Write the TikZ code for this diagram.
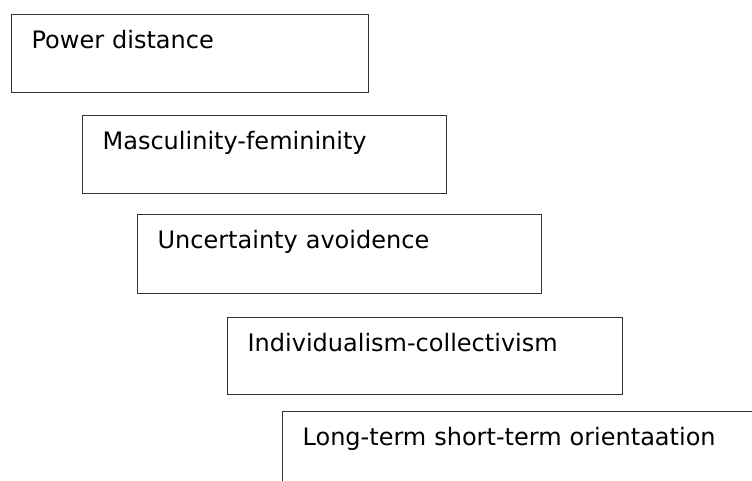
\documentclass[tikz,border=0pt]{standalone}
\usepackage{fontspec}
\setmainfont{DejaVu Sans}

\begin{document}
\begin{tikzpicture}[x=1pt, y=-1pt,
    dimbox/.style={draw=black!80, line width=1.2pt, anchor=north west, align=left,
        inner xsep=20pt, inner ysep=0pt, text height=34pt, text depth=44pt,
        font=\fontsize{24}{28}\selectfont}]
        \useasboundingbox (0,0) rectangle (752,481);
        \clip (0,0) rectangle (752,481);

        % Draw the dimension boxes
        \node[dimbox, text width=317pt] (power) at (11,14) {Power distance};
        \node[dimbox, text width=324pt] (masc) at (82,115) {Masculinity-femininity};
        \node[dimbox, text width=364pt, text depth=45pt] (uncert) at (137,214) {Uncertainty avoidence};
        \node[dimbox, text width=355pt, text depth=43pt] (indiv) at (227,317) {Individualism-collectivism};
        \node[dimbox, text width=480pt] (longterm) at (282,411) {Long-term short-term orientaation};
    \end{tikzpicture}
\end{document}
